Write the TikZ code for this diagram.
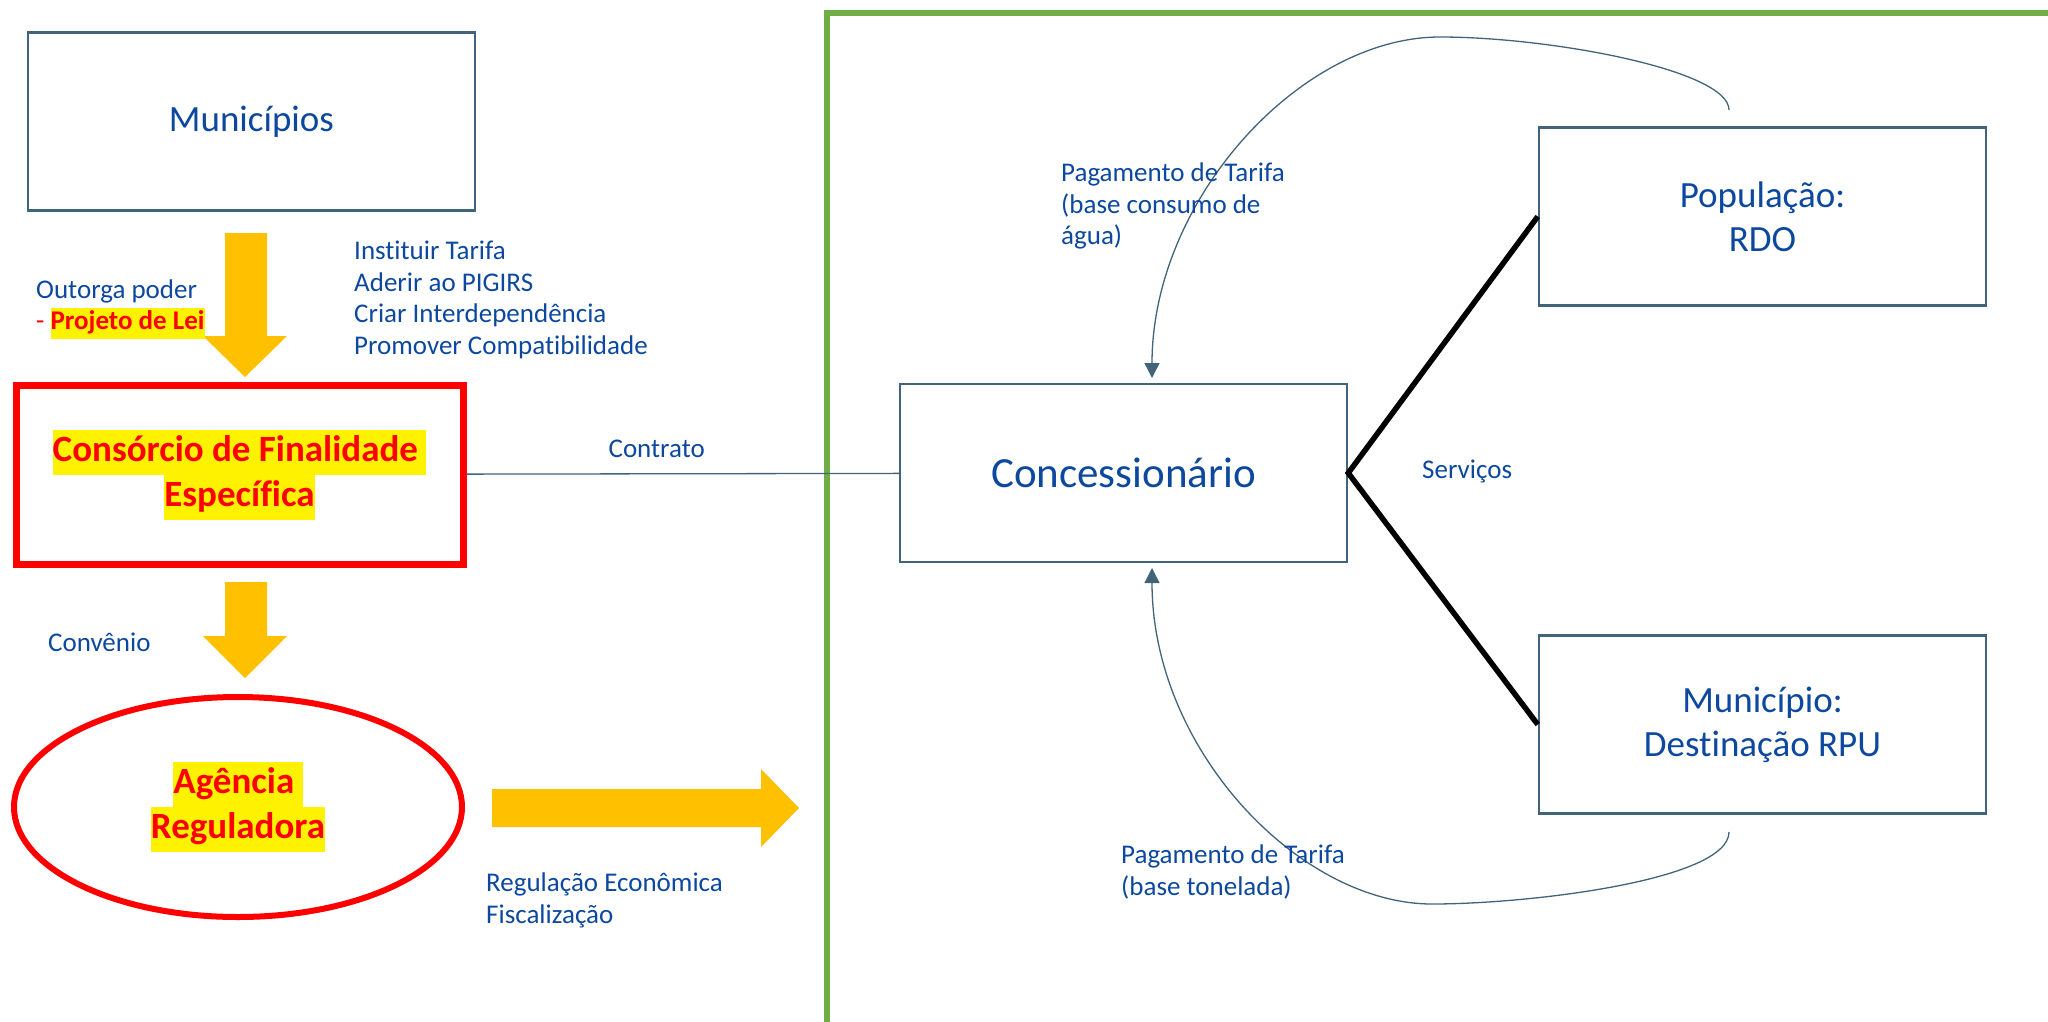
\documentclass[tikz,border=0pt]{standalone}
\usepackage{fontspec}
\setmainfont{Carlito}[Ligatures=NoCommon]
\usetikzlibrary{arrows.meta,positioning,shapes.geometric}

\definecolor{txtblue}{RGB}{12,72,158}
\definecolor{boxline}{RGB}{65,100,122}
\definecolor{setaorange}{RGB}{255,192,0}
\definecolor{verde}{RGB}{112,173,71}

\newcommand{\marca}[1]{{\fboxsep=0pt\colorbox{yellow}{\strut #1}}}

\tikzset{
  caixa/.style={draw=boxline, line width=2.5pt, minimum width=447pt, minimum height=178pt,
    text=txtblue, align=center, font=\fontsize{37}{44}\selectfont},
  rotulo/.style={text=txtblue, align=left, inner sep=0pt, anchor=west,
    font=\fontsize{27}{31.6}\selectfont},
  destaque/.style={text=red, align=center, inner sep=0pt,
    font=\fontsize{37}{45}\selectfont\bfseries},
  bloco/.style={fill=setaorange},
  pagto/.style={draw=boxline, line width=1.3pt, -{Triangle[length=15pt,width=15pt]}},
}

\begin{document}
\begin{tikzpicture}[x=1pt, y=-1pt]
  \useasboundingbox (0,0) rectangle (2048,1021);

  % lado do consorcio
  \node[caixa, font=\fontsize{37}{44}\selectfont] (municipios) at (251.5,121.5) {Municípios};
  \node[draw=red, line width=7pt, minimum width=447pt, minimum height=179pt, destaque]
    (consorcio) at (239.5,474.5) {\marca{Consórcio de Finalidade }\\\marca{Específica}};
  \node[draw=red, line width=6pt, ellipse, minimum width=448pt, minimum height=220pt, destaque]
    (agencia) at (238,807) {\marca{Agência }\\\marca{Reguladora}};

  \fill[bloco] (225,233) -- (267,233) -- (267,336) -- (287,336) -- (245,377) -- (203,336) -- (225,336) -- cycle;
  \fill[bloco] (225,582) -- (267,582) -- (267,636) -- (287,636) -- (245,678) -- (203,636) -- (225,636) -- cycle;
  \fill[bloco] (492,789) -- (761,789) -- (761,769) -- (799,808) -- (761,847) -- (761,827) -- (492,827) -- cycle;

  \node[rotulo] (outorga) at (36,307.5)
    {\strut Outorga poder\\\strut\textcolor{red}{-} \marca{\textbf{\textcolor{red}{Projeto de Lei}}}};
  \node[rotulo] (instituir) at (354,300.5)
    {\strut Instituir Tarifa\\\strut Aderir ao PIGIRS\\\strut Criar Interdependência\\\strut Promover Compatibilidade};
  \node[rotulo] (convenio) at (48,642) {Convênio};
  \node[rotulo] (regulacao) at (486,901) {\strut Regulação Econômica\\\strut Fiscalização};

  % area da concessao
  \draw[verde, line width=6pt] (827,1030) -- (827,13) -- (2060,13);

  \node[caixa, font=\fontsize{43}{50}\selectfont] (conc) at (1123.5,473) {Concessionário};
  \node[caixa] (pop) at (1762.5,216.5) {População:\\RDO};
  \node[caixa, below=327.5pt of pop] (mun) {Município:\\Destinação RPU};

  \draw[boxline, line width=1.3pt] (consorcio) -- node[rotulo, pos=.44, anchor=center, yshift=25pt] (contrato) {Contrato} (conc);

  \draw[line width=5.5pt] (pop.west) -- (conc.east) -- (mun.west);
  \node[rotulo] (servicos) at (1422,471) {Serviços};

  \coordinate (saipop) at (1729,110);
  \coordinate (chegacima) at (1152,378);
  \coordinate (saimun) at (1729,832);
  \coordinate (chegabaixo) at (1152,568);
  \draw[pagto] (saipop) .. controls (1729,70) and (1550,37) .. (1440,37)
    .. controls (1300,37) and (1152,200) .. (chegacima);
  \draw[pagto] (saimun) .. controls (1729,880) and (1530,904) .. (1432,904)
    .. controls (1300,904) and (1152,750) .. (chegabaixo);

  \node[rotulo] (pagtopop) at (1061,206.7)
    {\strut Pagamento de Tarifa\\\strut (base consumo de\\\strut água)};
  \node[rotulo] (pagtomun) at (1121,873)
    {\strut Pagamento de Tarifa\\\strut (base tonelada)};
\end{tikzpicture}
\end{document}
